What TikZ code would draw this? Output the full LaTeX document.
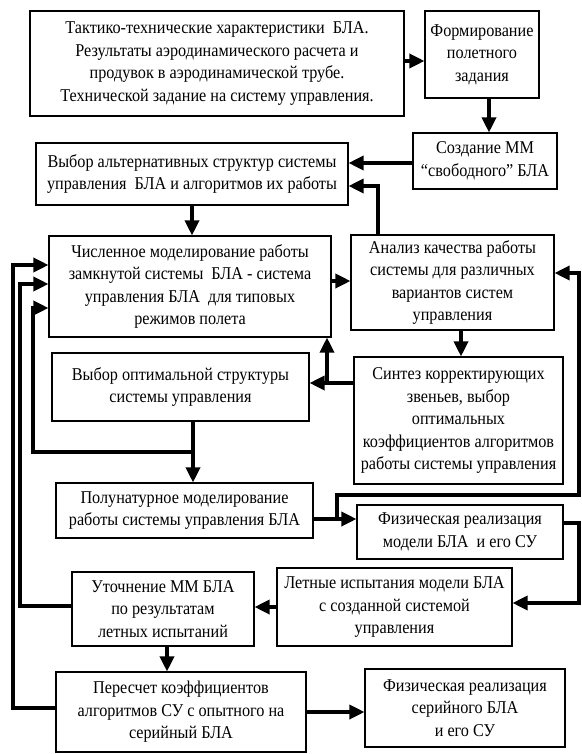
\documentclass[tikz,border=0pt]{standalone}
\usepackage{fontspec}
\setmainfont[FakeStretch=0.9]{Liberation Serif}
\usetikzlibrary{arrows.meta}

\begin{document}
\begin{tikzpicture}[x=1pt, y=-1pt,
        blok/.style={rectangle, draw, line width=1.1pt, align=center, inner sep=0pt,
                     font=\fontsize{18}{22.5}\selectfont},
        strelka/.style={line width=3.4pt, -{Triangle[length=15pt,width=14pt]}},
        linia/.style={line width=3.4pt}
        ]
        \useasboundingbox (0,0) rectangle (581,754);

        % Bloki
        \node[blok, minimum width=374pt, minimum height=105pt] (ttx) at (217,63.5)
            {Тактико-технические характеристики\ \ БЛА.\\ Результаты аэродинамического расчета и\\
             продувок в аэродинамической трубе.\\ Технической задание на систему управления.};
        \node[blok, minimum width=114pt, minimum height=87pt] (form) at (482,54.5)
            {Формирование\\ полетного\\ задания};
        \node[blok, minimum width=144pt, minimum height=56pt] (sozd) at (485,161)
            {Создание ММ\\ “свободного” БЛА};
        \node[blok, minimum width=312pt, minimum height=62pt] (alt) at (192,174)
            {Выбор альтернативных структур системы\\ управления\ \ БЛА и алгоритмов их работы};
        \node[blok, minimum width=282pt, minimum height=101pt] (chisl) at (190,286.5)
            {Численное моделирование работы\\ замкнутой системы\ \ БЛА - система\\
             управления БЛА\ \ для типовых\\ режимов полета};
        \node[blok, minimum width=203pt, minimum height=95pt] (analiz) at (452.5,282.5)
            {Анализ качества работы\\ системы для различных\\ вариантов систем\\ управления};
        \node[blok, minimum width=209pt, minimum height=127pt] (sintez) at (458.5,420.5)
            {Синтез корректирующих\\ звеньев, выбор\\ оптимальных\\ коэффициентов алгоритмов\\
             работы системы управления};
        \node[blok, minimum width=257pt, minimum height=68pt] (optim) at (180.5,387)
            {Выбор оптимальной структуры\\ системы управления};
        \node[blok, minimum width=257pt, minimum height=55pt] (polunat) at (184.5,510.5)
            {Полунатурное моделирование\\ работы системы управления БЛА};
        \node[blok, minimum width=206pt, minimum height=54pt] (fizmod) at (460,532)
            {Физическая реализация\\ модели БЛА\ \ и его СУ};
        \node[blok, minimum width=235pt, minimum height=78pt] (letn) at (394.5,607)
            {Летные испытания модели БЛА\\ с созданной системой\\ управления};
        \node[blok, minimum width=182pt, minimum height=74pt] (utoch) at (163,609)
            {Уточнение ММ БЛА\\ по результатам\\ летных испытаний};
        \node[blok, minimum width=250pt, minimum height=80pt] (peres) at (181,712)
            {Пересчет коэффициентов\\ алгоритмов СУ с опытного на\\ серийный БЛА};
        \node[blok, minimum width=200pt, minimum height=78pt] (fizser) at (465,708)
            {Физическая реализация\\ серийного БЛА\\ и его СУ};

        % Uzly na liniyakh
        \coordinate (uzel1) at (327,383);
        \coordinate (uzel2) at (193,452);
        \coordinate (uzel3) at (337,519);

        % Svyazi
        \draw[strelka] (ttx.east |- 0,61) -- (form.west |- 0,61);
        \draw[strelka] (form.south -| 489,0) -- (sozd.north -| 489,0);
        \draw[strelka] (sozd.west |- 0,163) -- (alt.east |- 0,163);
        \draw[strelka] (analiz.north -| 378,0) |- (alt.east |- 0,186);
        \draw[strelka] (alt.south) -- (alt.south |- chisl.north);
        \draw[strelka] (chisl.east |- 0,281) -- (analiz.west |- 0,281);
        \draw[strelka] (analiz.south -| 461,0) -- (sintez.north -| 461,0);
        \draw[linia] (sintez.west |- uzel1) -- (uzel1);
        \draw[strelka] (uzel1) -- (optim.east |- uzel1);
        \draw[strelka] (uzel1) -- (uzel1 |- chisl.south);
        \draw[strelka] (optim.south -| uzel2) -- (polunat.north -| uzel2);
        \draw[strelka] (uzel2) -| (33,308) -- (chisl.west |- 0,308);
        \draw[strelka] (polunat.east |- uzel3) -- (fizmod.west |- uzel3);
        \draw[strelka] (uzel3) |- (579,495) |- (analiz.east |- 0,273);
        \draw[strelka] (fizmod.east |- 0,523) -| (579,603) -- (letn.east |- 0,603);
        \draw[strelka] (letn.west |- 0,607) -- (utoch.east |- 0,607);
        \draw[strelka] (utoch.west |- 0,606) -| (20,284) -- (chisl.west |- 0,284);
        \draw[strelka] (utoch.south -| 167,0) -- (peres.north -| 167,0);
        \draw[strelka] (peres.east |- 0,712) -- (fizser.west |- 0,712);
        \draw[strelka] (peres.west |- 0,708) -| (13,265) -- (chisl.west |- 0,265);
\end{tikzpicture}
\end{document}
